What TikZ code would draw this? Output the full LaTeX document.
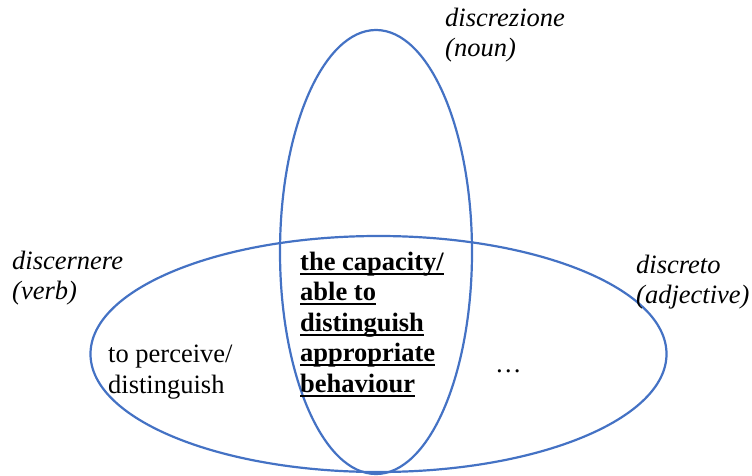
\documentclass[tikz,border=0pt]{standalone}
\usepackage{fontspec}
\setmainfont{Liberation Serif}
\definecolor{ringblue}{HTML}{4472C4}
% underline drawn at a fixed depth below the baseline
\newcommand\ulword[1]{\setbox0\hbox{#1}\rlap{\rule[-4.5pt]{\wd0}{2pt}}\box0}
\tikzset{
  ring/.style={draw=ringblue, line width=2.2pt},
  % nodes are placed by the baseline of their last line
  lbl/.style={anchor=base west, inner sep=0pt, align=left,
    font=\fontsize{26.5}{30.5}\selectfont},
  poslabel/.style={lbl, font=\fontsize{26.5}{30}\itshape},
}
\begin{document}
\begin{tikzpicture}[x=1pt,y=-1pt]
\useasboundingbox (0,0) rectangle (752,476);
% the noun sense (vertical) and the verb/adjective senses (horizontal)
\draw[ring] (376,252) ellipse [x radius=96pt, y radius=222pt];
\draw[ring] (378.5,354) ellipse [x radius=288pt, y radius=118pt];
% part-of-speech labels
\node[poslabel] (noun) at (445,57) {discrezione\\(noun)};
\node[poslabel] (verb) at (12,299) {discernere\\(verb)};
\node[poslabel] (adj) at (636,303) {discreto\\(adjective)};
% meanings
\node[lbl, font=\fontsize{26.5}{30.5}\bfseries] (shared) at (300,392)
  {\ulword{the capacity/}\\\ulword{able to}\\\ulword{distinguish}\\\ulword{appropriate}\\\ulword{behaviour}};
\node[lbl] (verbsense) at (108,393) {to perceive/\\distinguish};
\node[lbl] (adjsense) at (495,372) {\char"2026};
\end{tikzpicture}
\end{document}
